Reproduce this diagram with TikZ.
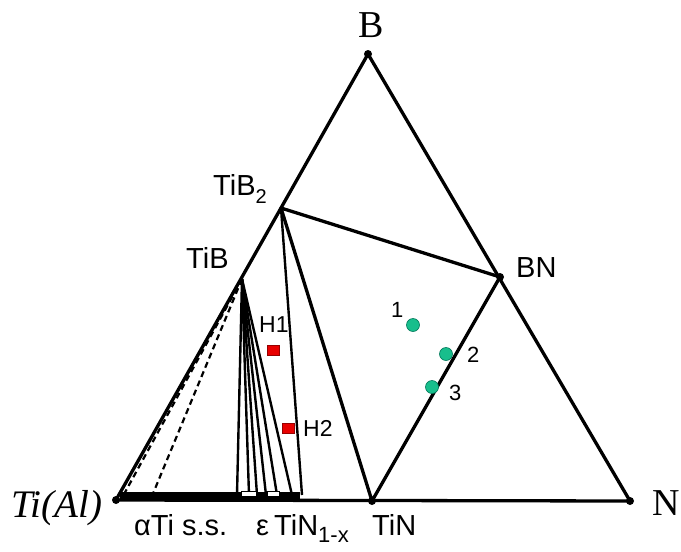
\documentclass[tikz,border=0pt]{standalone}
\usepackage{fontspec}
\setmainfont{Liberation Serif}
\setsansfont{Liberation Sans}
\definecolor{ptgreen}{RGB}{24,190,140}
\definecolor{ptgreenedge}{RGB}{0,120,90}
\definecolor{ptred}{RGB}{232,0,0}
\definecolor{ptrededge}{RGB}{150,0,0}
\begin{document}
\begin{tikzpicture}[x=1pt,y=-1pt,
  edge/.style={line width=3.3pt, line join=round, line cap=round},
  fanline/.style={line width=2.4pt},
  dashline/.style={line width=2.2pt, dash pattern=on 6pt off 4pt},
  vdot/.style={circle, fill=black, inner sep=0pt, minimum size=8pt},
  lab/.style={font=\sffamily\fontsize{29}{31}\selectfont, inner sep=0pt, anchor=base west},
  serlab/.style={font=\fontsize{38}{40}\selectfont, inner sep=0pt, anchor=base west},
  small/.style={font=\sffamily\fontsize{23}{25}\selectfont, inner sep=0pt, anchor=base west},
  digit/.style={font=\sffamily\fontsize{22}{24}\selectfont, inner sep=0pt, anchor=base west},
  gpt/.style={circle, fill=ptgreen, draw=ptgreenedge, line width=0.6pt, minimum size=13pt, inner sep=0pt},
  rpt/.style={rectangle, fill=ptred, draw=ptrededge, line width=0.6pt, minimum width=12pt, minimum height=10pt, inner sep=0pt},
  gap/.style={fill=white, draw=black, line width=0.7pt}]
\useasboundingbox (0,0) rectangle (681,552);
% vertices
\node[vdot] (B) at (368,54) {};
\node[vdot] (N) at (630,501) {};
\node[vdot] (Ti) at (116,500) {};
\node[vdot] (TiN) at (372,501) {};
\node[vdot] (BN) at (500,277) {};
\coordinate (TiBtwo) at (281,208);
\coordinate (TiB) at (242,279);
% fan bottom points
\coordinate (f1) at (237,495);
\coordinate (f2) at (249,495);
\coordinate (f3) at (257,495);
\coordinate (f4) at (266,495);
\coordinate (f5) at (277,495);
\coordinate (f6) at (292,495);
\coordinate (f7) at (302,495);
\coordinate (d1) at (123,496);
\coordinate (d2) at (152,496);
\coordinate (barend) at (300,496);
\coordinate (barstart) at (120,496);
% dashed tie lines
\draw[dashline] (TiB) -- (d1);
\draw[dashline] (TiB) -- (d2);
% fan of tie lines
\foreach \p in {f1,f2,f3,f4,f5,f6}
  \draw[fanline] (TiB) -- (\p);
\draw[fanline] (TiBtwo) -- (f7);
% thick base bar
\draw[line width=8pt] (barstart) -- (barend);
\node[gap, minimum width=15pt, minimum height=5pt, inner sep=0pt] (g1) at (248.5,493.5) {};
\node[gap, minimum width=12pt, minimum height=5pt, inner sep=0pt] (g2) at (273,493.5) {};
% main edges
\draw[edge] (Ti.center) -- (B.center) -- (N.center) -- (Ti.center);
\draw[edge] (TiBtwo) -- (BN.center) -- (TiN.center) -- (TiBtwo);
% labels
\node[serlab] (lB) at (358,37) {B};
\node[serlab] (lN) at (652,515) {N};
\node[serlab, font=\itshape\fontsize{39}{41}\selectfont] (lTi) at (11,517) {Ti(Al)};
\node[lab] (lTiB2) at (213,195) {TiB\raisebox{-8pt}{\fontsize{20}{20}\selectfont 2}};
\node[lab] (lTiB) at (186,268) {TiB};
\node[lab] (lBN) at (516,277) {BN};
\node[lab] (la) at (134,535) {αTi s.s.};
\node[lab] (le) at (256,535) {ε};
\node[lab] (lTiNx) at (274,535) {TiN\raisebox{-7pt}{\fontsize{22}{22}\selectfont 1-x}};
\node[lab] (lTiN) at (372,535) {TiN};
% points
\node[rpt] (H1) at (273,350) {};
\node[rpt] (H2) at (288,428) {};
\node[small] (lH1) at (259,332) {H1};
\node[small] (lH2) at (303,436) {H2};
\node[gpt] (p1) at (413,325) {};
\node[gpt] (p2) at (446,354) {};
\node[gpt] (p3) at (432,387) {};
\node[digit] (l1) at (391,317) {1};
\node[digit] (l2) at (467,362) {2};
\node[digit] (l3) at (449,400) {3};
\end{tikzpicture}
\end{document}
